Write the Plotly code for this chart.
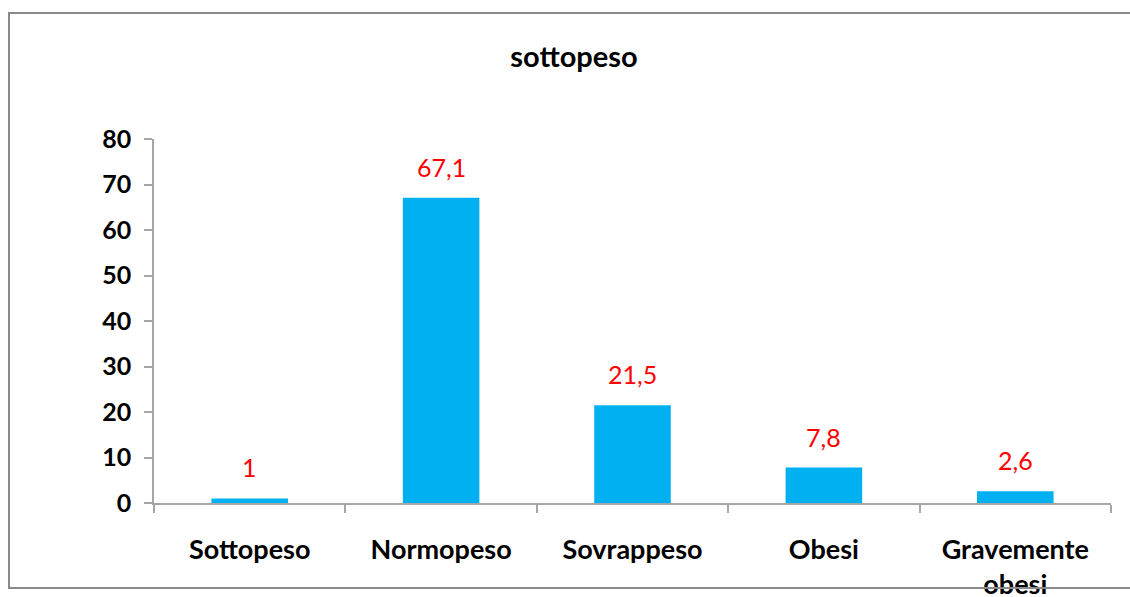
import plotly.graph_objects as go

categories = ["Sottopeso", "Normopeso", "Sovrappeso", "Obesi", "Gravemente<br>obesi"]
values = [1, 67.1, 21.5, 7.8, 2.6]
value_labels = ["1", "67,1", "21,5", "7,8", "2,6"]
y_ticks = [0, 10, 20, 30, 40, 50, 60, 70, 80]
title_text = "sottopeso"

FONT = "Lato"

fig = go.Figure()
fig.add_trace(go.Bar(
    x=categories, y=values,
    marker=dict(color="#00B0F0", line=dict(width=0)),
    width=0.4,
    hoverinfo="skip",
))

for c, v, t in zip(categories, values, value_labels):
    fig.add_annotation(x=c, y=v, text=t, showarrow=False, yshift=31,
                       font=dict(family=FONT, size=25, color="#FF0000"))

fig.add_shape(type="rect", xref="paper", yref="paper",
              x0=-145/957, x1=1.2,
              y0=-85/364, y1=(503-13)/364,
              line=dict(color="#8a8a8a", width=2), layer="above")

fig.update_layout(
    width=1130, height=597,
    paper_bgcolor="white", plot_bgcolor="white",
    margin=dict(l=154, r=19, t=139, b=94, autoexpand=False),
    showlegend=False,
    bargap=0.6,
    title=dict(text="<b>" + title_text + "</b>", x=574/1130, xanchor="center",
               y=1 - 57/597, yanchor="middle",
               font=dict(family=FONT, size=29, color="black")),
    xaxis=dict(
        automargin=False,
        showline=True, linecolor="#a6a6a6", linewidth=1.5,
        ticks="outside", tickson="boundaries", ticklen=8, tickcolor="#a6a6a6", tickwidth=1.5,
        showgrid=False, ticklabelstandoff=22,
        tickfont=dict(family=FONT, size=27, color="black", weight="bold"),
        fixedrange=True,
    ),
    yaxis=dict(
        automargin=False,
        range=[0, 80], tickvals=y_ticks,
        showline=True, linecolor="#a6a6a6", linewidth=1.5,
        ticks="outside", ticklen=8, tickcolor="#a6a6a6", tickwidth=1.5,
        showgrid=False, zeroline=False, ticklabelstandoff=8,
        tickfont=dict(family=FONT, size=25, color="black", weight="bold"),
        fixedrange=True,
    ),
)

fig.write_html("out.html", config={"displayModeBar": False},
               post_script="document.body.style.margin='0';")
